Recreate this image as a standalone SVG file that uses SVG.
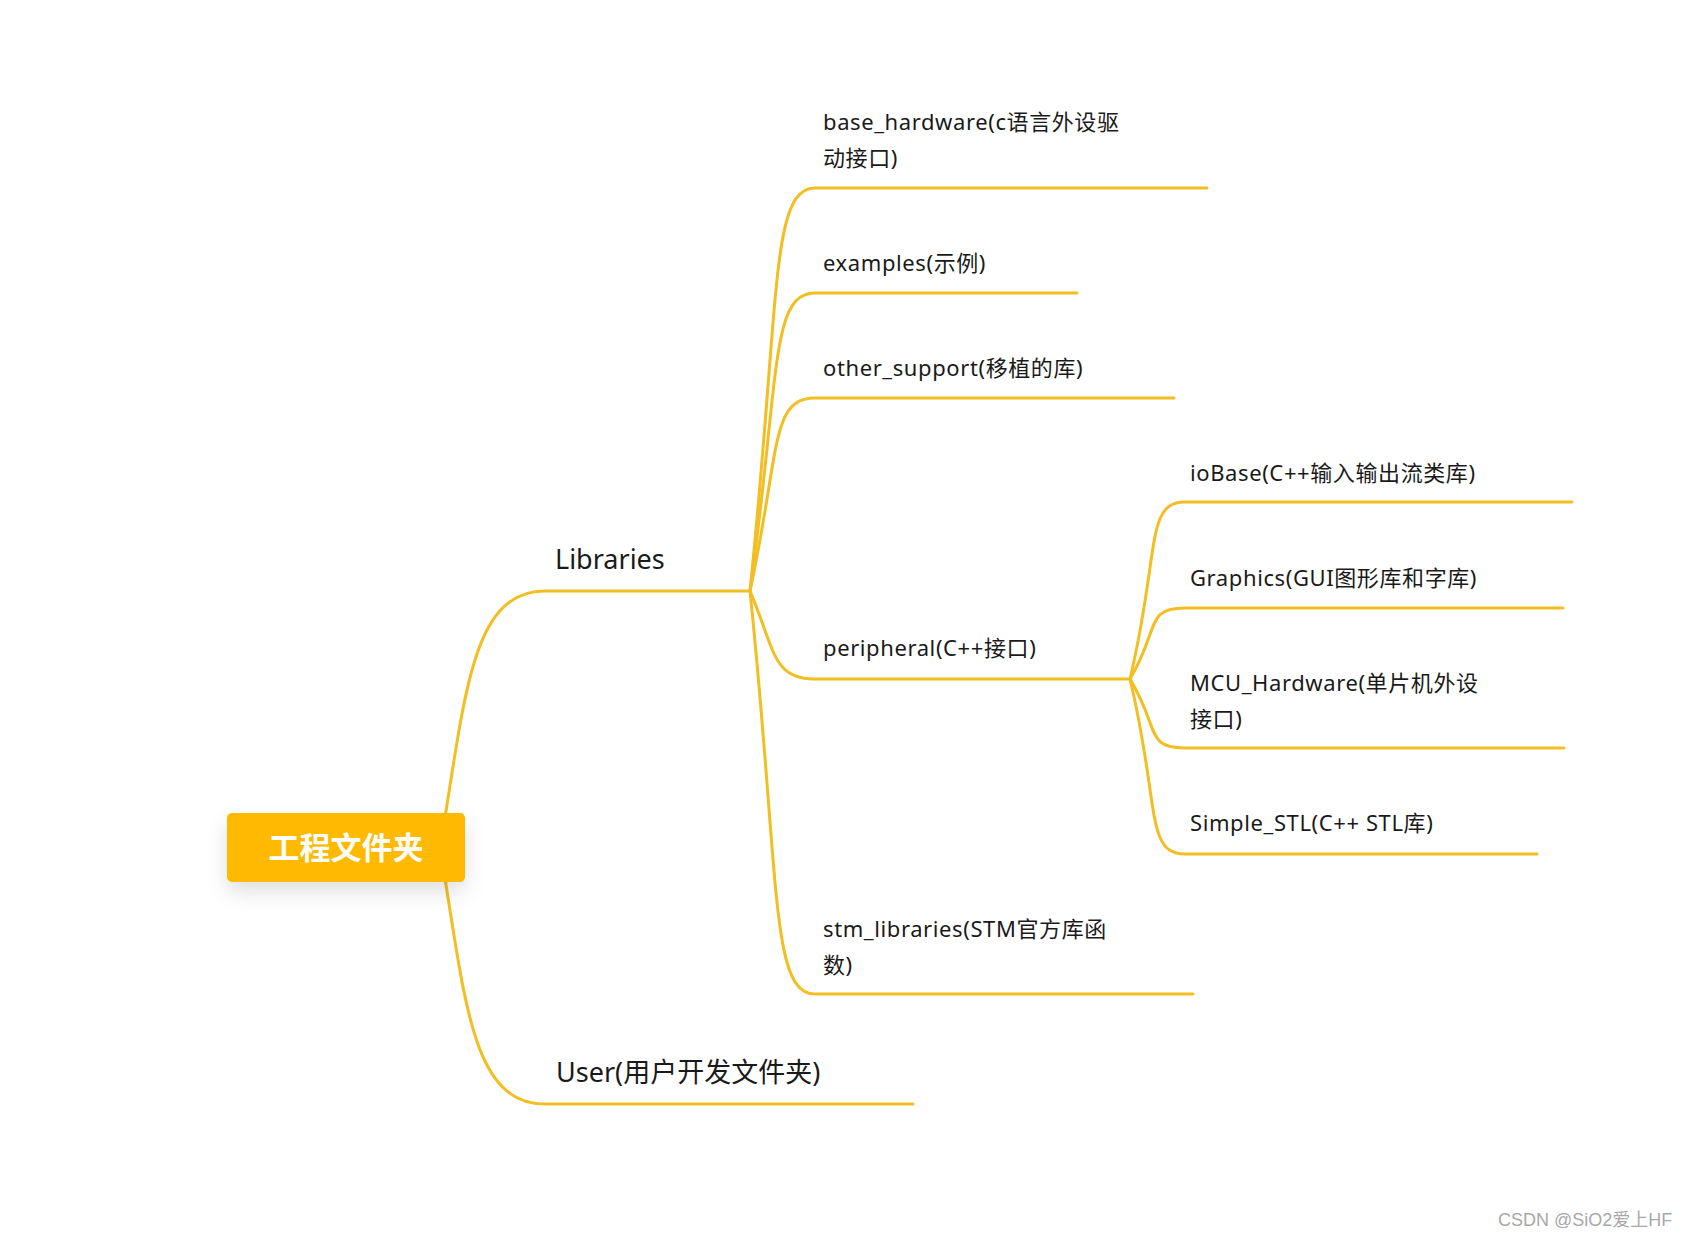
<svg xmlns="http://www.w3.org/2000/svg" width="1690" height="1233" viewBox="0 0 1690 1233">
  <defs>
    <filter id="shadow" x="-30%" y="-40%" width="160%" height="200%">
      <feDropShadow dx="0" dy="10" stdDeviation="10" flood-color="#000" flood-opacity="0.12"/>
    </filter>
  </defs>
  <style>
    .ln { fill: none; stroke: #F2BE22; stroke-width: 3; stroke-linecap: round; }
    .l1 { font-family: "Noto Sans", "Noto Sans CJK SC", sans-serif; font-size: 27px; fill: #1a1a1a; }
    .l2 { font-family: "Noto Sans", "Noto Sans CJK SC", sans-serif; font-size: 22px; letter-spacing: 0.6px; fill: #1a1a1a; }
    .root { font-family: "Noto Sans CJK SC", sans-serif; font-size: 31px; font-weight: bold; fill: #ffffff; }
    .wm { font-family: "Liberation Sans", "Noto Sans CJK SC", sans-serif; font-size: 18px; fill: #a8a8a8; }
  </style>
  <rect width="1690" height="1233" fill="#ffffff"/>

  <g id="connectors">
    <path class="ln" d="M440,848 C465,700 470,591 545,591 L750,591"/>
    <path class="ln" d="M440,848 C465,996 470,1104 545,1104 L913,1104"/>

    <path class="ln" d="M750,591 C780,301 770,188 815,188 L1207,188"/>
    <path class="ln" d="M750,591 C780,376 770,293 815,293 L1077,293"/>
    <path class="ln" d="M750,591 C780,452 770,398 815,398 L1174,398"/>
    <path class="ln" d="M750,591 C775,650 772,679 815,679 L1130,679"/>
    <path class="ln" d="M750,591 C780,881 770,994 815,994 L1193,994"/>

    <path class="ln" d="M1130,679 C1160,552 1145,502 1185,502 L1572,502"/>
    <path class="ln" d="M1130,679 C1160,628 1145,608 1185,608 L1563,608"/>
    <path class="ln" d="M1130,679 C1160,729 1145,748 1185,748 L1564,748"/>
    <path class="ln" d="M1130,679 C1160,805 1145,854 1185,854 L1537,854"/>
  </g>

  <g id="root">
    <rect x="227" y="813" width="238" height="69" rx="5" fill="#FFBA00" filter="url(#shadow)"/>
    <text class="root" x="346" y="859" text-anchor="middle">工程文件夹</text>
  </g>

  <g id="libraries">
    <text class="l1" x="555" y="569">Libraries</text>
  </g>
  <g id="user">
    <text class="l1" x="556" y="1082">User(用户开发文件夹)</text>
  </g>

  <g id="base_hardware">
    <text class="l2" x="823" y="130">base_hardware(c语言外设驱</text>
    <text class="l2" x="823" y="166">动接口)</text>
  </g>
  <g id="examples">
    <text class="l2" x="823" y="271">examples(示例)</text>
  </g>
  <g id="other_support">
    <text class="l2" x="823" y="376">other_support(移植的库)</text>
  </g>
  <g id="peripheral">
    <text class="l2" x="823" y="656">peripheral(C++接口)</text>
  </g>
  <g id="stm_libraries">
    <text class="l2" x="823" y="937">stm_libraries(STM官方库函</text>
    <text class="l2" x="823" y="973">数)</text>
  </g>

  <g id="ioBase">
    <text class="l2" x="1190" y="481">ioBase(C++输入输出流类库)</text>
  </g>
  <g id="Graphics">
    <text class="l2" x="1190" y="586">Graphics(GUI图形库和字库)</text>
  </g>
  <g id="MCU_Hardware">
    <text class="l2" x="1190" y="691">MCU_Hardware(单片机外设</text>
    <text class="l2" x="1190" y="727">接口)</text>
  </g>
  <g id="Simple_STL">
    <text class="l2" x="1190" y="831">Simple_STL(C++ STL库)</text>
  </g>

  <text class="wm" x="1498" y="1226">CSDN @SiO2爱上HF</text>
</svg>
